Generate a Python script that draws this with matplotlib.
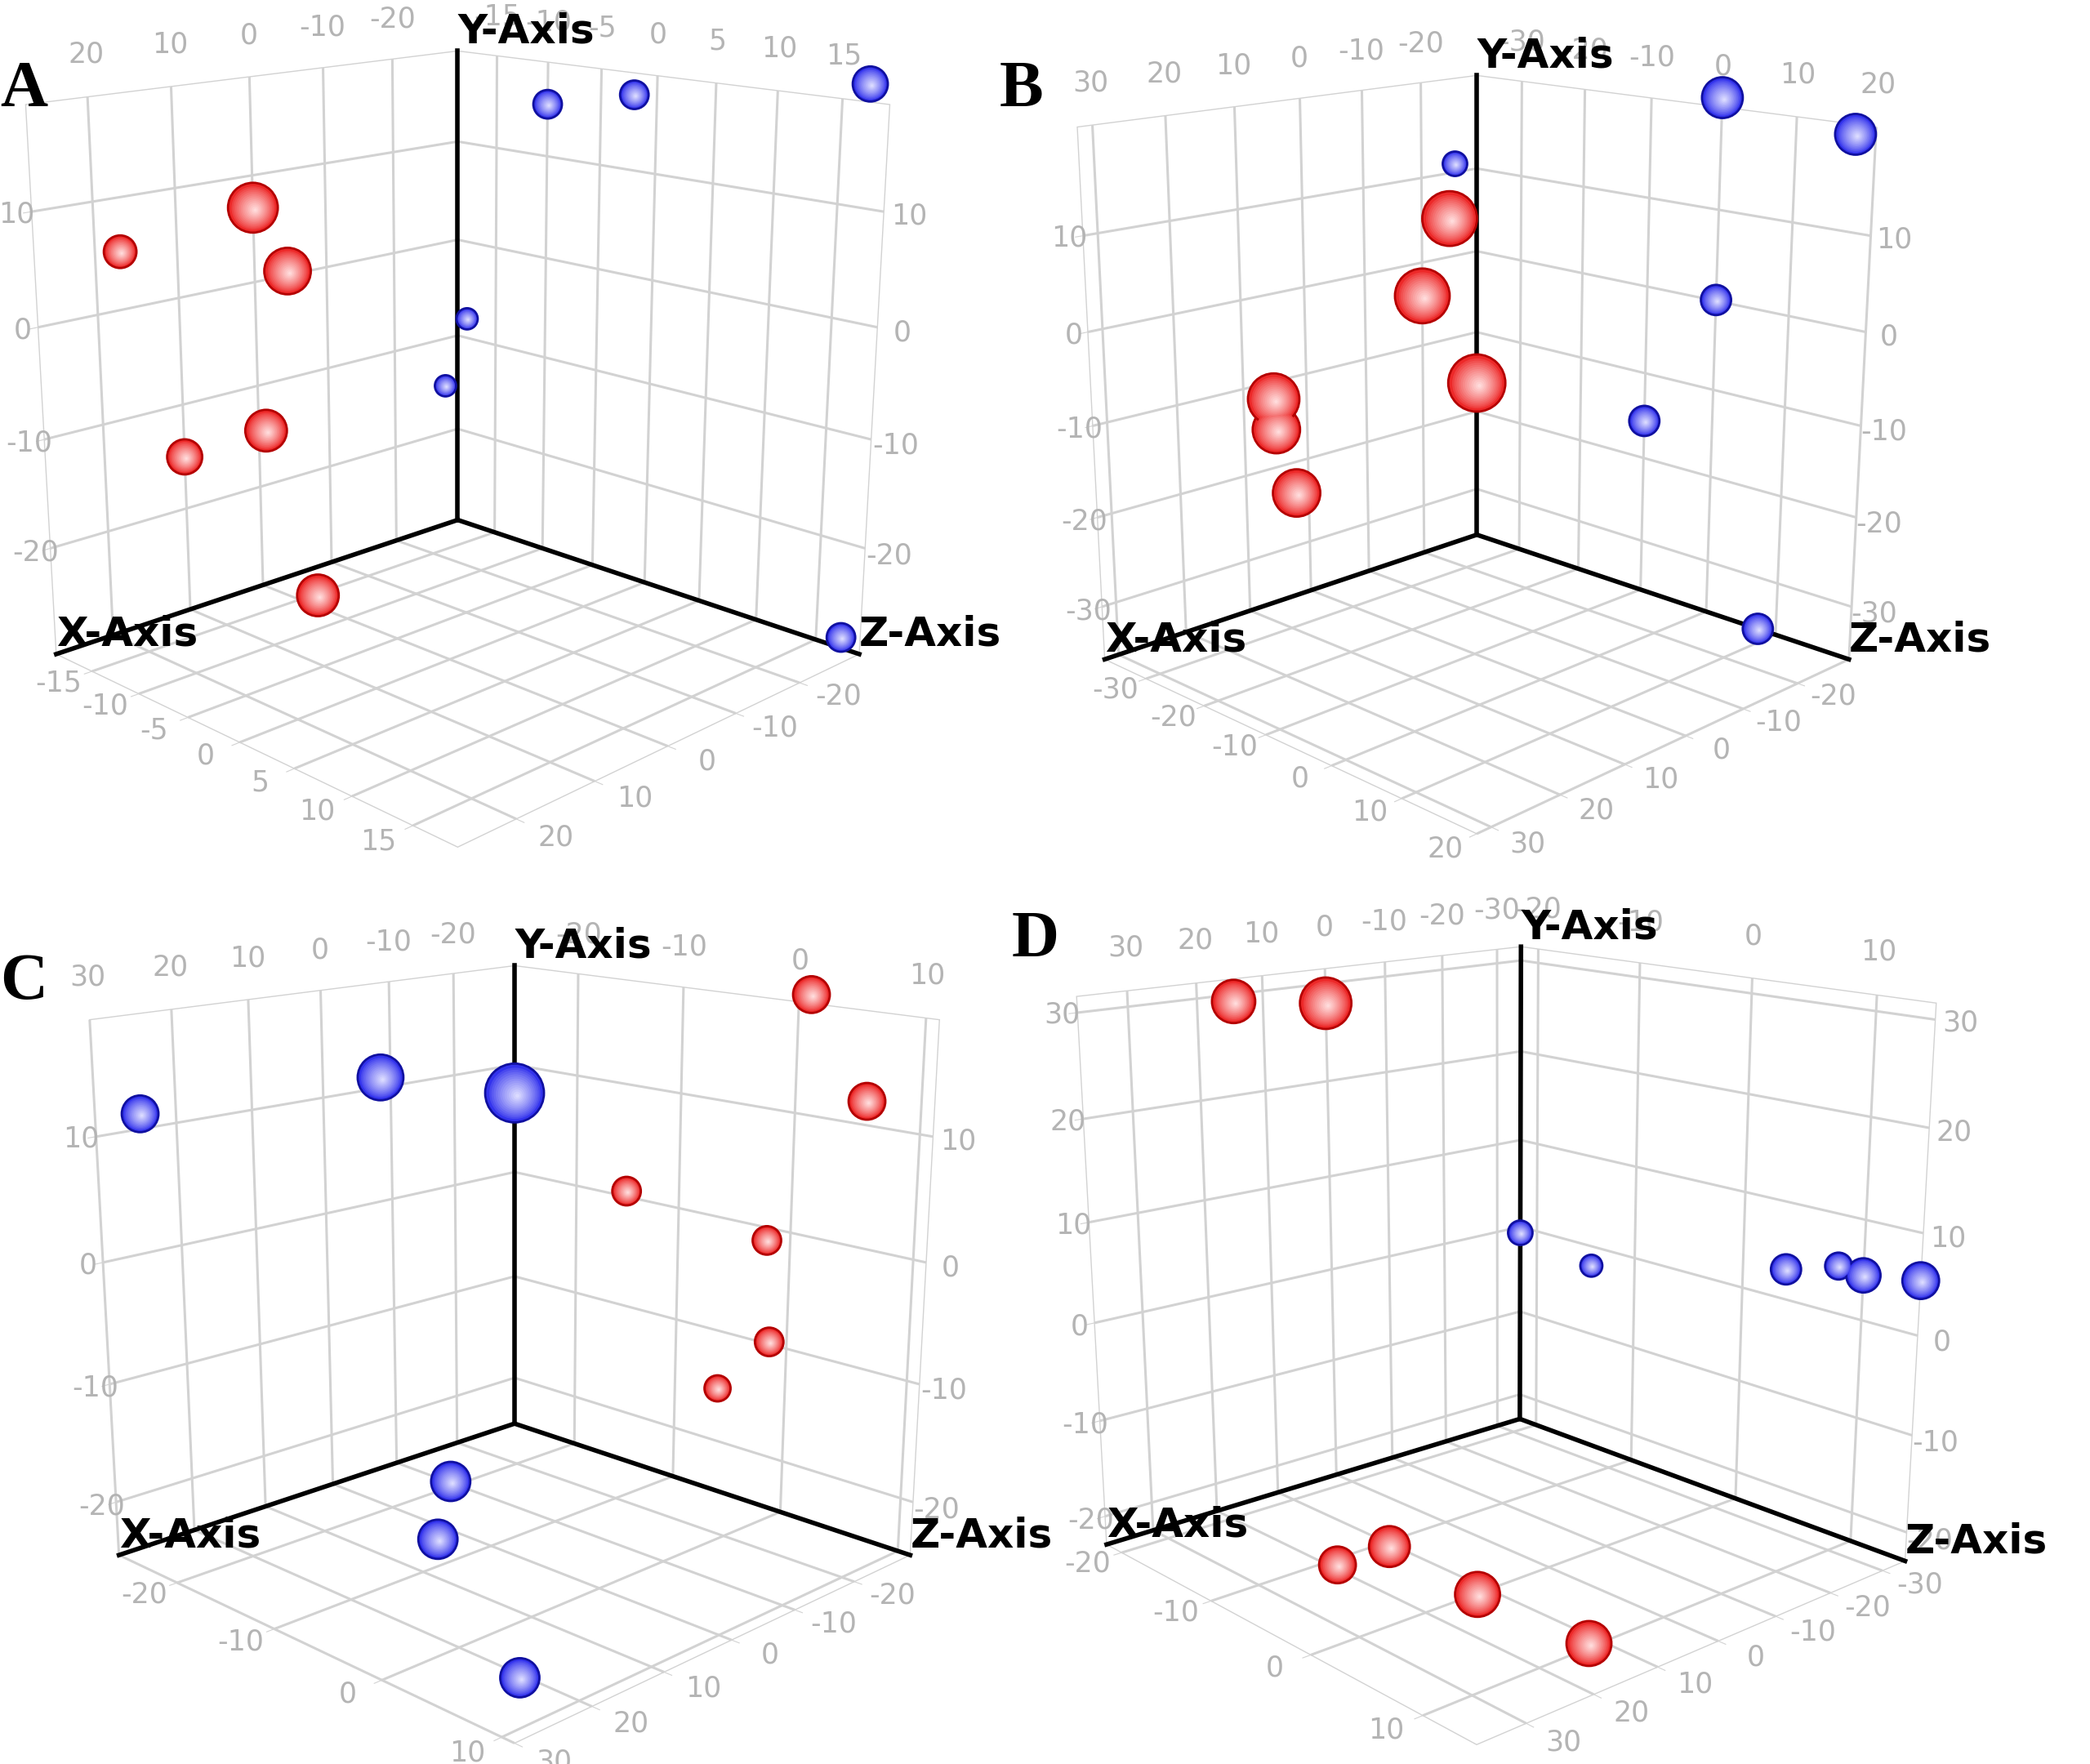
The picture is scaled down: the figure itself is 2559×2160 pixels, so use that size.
import numpy as np
import matplotlib.pyplot as plt
from matplotlib.path import Path

# x runs along the "X-Axis" line (lower left), y along the "Z-Axis" line
# (lower right), z is the vertical "Y-Axis". sizes are sphere diameters (px)

# panel A
a_lims = [(-30, 27), (-19, 18.5), (-30, 19)]
a_ticks = [[-20, -10, 0, 10, 20], [-15, -10, -5, 0, 5, 10, 15], [-20, -10, 0, 10]]
a_red_x = [0, 17, -4.5, -1, 10, -2.2]
a_red_y = [-19, -19, -19, -19, -19, -14.7]
a_red_z = [7, 5.2, 0.4, -14.6, -15, -30]
a_red_size = [61, 40, 57, 51, 43, 51]
a_blue_x = [-30, -30, -30, -30, -28, -30]
a_blue_y = [-10, -2, 17, -18, -19, 17]
a_blue_z = [15, 17, 20.5, -8, -15, -29]
a_blue_size = [35, 35, 43, 26, 26, 35]

# panel B
b_lims = [(-30, 32), (-37.5, 20), (-36, 21)]
b_ticks = [[-20, -10, 0, 10, 20, 30], [-30, -20, -10, 0, 10, 20], [-30, -20, -10, 0, 10]]
b_red_x = [-25, -20, -30, 5.3, 5, 2]
b_red_y = [-37.5, -37.5, -37.5, -37.5, -37.5, -37.5]
b_red_z = [4.6, -4, -16.4, -12, -15.6, -23.7]
b_red_size = [67, 67, 70, 63, 58, 58]
b_blue_x = [-26, -30, -30, -30, -30, -30]
b_blue_y = [-37.5, 0, 17.5, 0, -10, 7.5]
b_blue_z = [11, 22, 20, 0.1, -15.6, -36]
b_blue_size = [30, 50, 50, 37, 37, 37]

# panel C
c_lims = [(-30, 30), (-26.5, 11), (-24.6, 19)]
c_ticks = [[-20, -10, 0, 10, 20, 30], [-20, -10, 0, 10], [-20, -10, 0, 10]]
c_blue_x = [-30, -8.5, 24.5, -10.3, 2.8, 20.5]
c_blue_y = [-26.5, -26.5, -26.5, -20.8, -13.4, 5.5]
c_blue_z = [7.4, 10.9, 11.2, -24.6, -24.6, -24.6]
c_blue_size = [72, 56, 45, 48, 48, 48]
c_red_x = [-30, -30, -30, -30, -30, -30]
c_red_y = [1, 5.8, -15, -2, -1.5, -6]
c_red_z = [19.7, 11.9, 0.5, -1.1, -9.8, -15.2]
c_red_size = [45, 45, 35, 35, 35, 32]

# panel D
d_lims = [(-34.5, 37), (-21.8, 14.4), (-23, 31.5)]
d_ticks = [[-30, -20, -10, 0, 10, 20, 30], [-20, -10, 0, 10], [-20, -10, 0, 10, 20, 30]]
d_red_x = [14.5, 0, 19.1, 10.6, 12, 11.5]
d_red_y = [-21.8, -21.8, -9.2, -9.3, 0.1, 9.6]
d_red_z = [29.3, 28, -23, -23, -23, -23]
d_red_size = [53, 63, 45, 50, 55, 55]
d_blue_x = [-34.5, -34.5, -34.5, -34.5, -34.5, -34.5]
d_blue_y = [-21.8, -14.3, 3.7, 8, 10, 14.4]
d_blue_z = [-0.7, -2.2, 3.1, 4.8, 4.5, 5.4]
d_blue_size = [30, 27, 37, 33, 42, 45]

plt.rcParams['grid.color'] = '#d2d2d2'
plt.rcParams['grid.linewidth'] = 2.2

TICK_GREY = '#b4b4b4'


def ball(frac):
    # circle of radius frac, pushed a little to the lower right, inside a fixed frame
    c = Path.unit_circle()
    v = c.vertices * frac + np.array([0.1, -0.1]) * (1 - frac)
    v = np.vstack([v, [[1, 1], [-1, -1]]])
    codes = np.concatenate([c.codes, [Path.MOVETO, Path.MOVETO]])
    return Path(v, codes)


def spheres(ax, x, y, z, size, base, light, edge):
    s = (np.array(size) * 0.72) ** 2
    sc = ax.scatter(x, y, z, s=s, marker=ball(1.0), c=[base], edgecolors=edge,
                    linewidths=2, depthshade=False, zorder=10)
    sc.set_clip_on(False)
    n = 14
    for i in range(1, n):
        f = 1 - i / n
        t = (i / (n - 1)) ** 0.8
        col = tuple(np.array(base) * (1 - t) + np.array(light) * t)
        sc = ax.scatter(x, y, z, s=s, marker=ball(f * 0.94), c=[col], linewidths=0,
                        depthshade=False, zorder=10 + i)
        sc.set_clip_on(False)


def panel(rect, zoom, zasp, azim, letter, letter_pos, lims, ticks, groups):
    ax = fig.add_axes(rect, projection='3d')
    ax.computed_zorder = False
    ax.set_proj_type('persp', focal_length=0.45)
    ax.view_init(elev=16, azim=azim)
    (x0, x1), (y0, y1), (z0, z1) = lims
    ax.set_xlim(x0, x1, view_margin=0)
    ax.set_ylim(y0, y1, view_margin=0)
    ax.set_zlim(z0, z1, view_margin=0)
    ax.set_xticks(ticks[0])
    ax.set_yticks(ticks[1])
    ax.set_zticks(ticks[2])
    ax.set_xticklabels([])
    ax.set_yticklabels([])
    ax.set_zticklabels([])
    ax.tick_params(axis='both', color='#d2d2d2')
    for axis in (ax.xaxis, ax.yaxis, ax.zaxis):
        axis.set_pane_color((1, 1, 1, 1))
        axis.pane.set_edgecolor('#d2d2d2')
        axis.line.set_color((1, 1, 1, 0))
    ax.set_box_aspect((1, 1, zasp), zoom=zoom)
    ax.patch.set_alpha(0)

    dx, dy, dz = x1 - x0, y1 - y0, z1 - z0
    fs = 25
    # labels on top of the two walls
    for v in ticks[0]:
        ax.text(v, y0, z1 + 0.05 * dz, str(v), color=TICK_GREY, fontsize=fs,
                ha='center', va='bottom')
    for v in ticks[1]:
        ax.text(x0, v, z1 + 0.05 * dz, str(v), color=TICK_GREY, fontsize=fs,
                ha='center', va='bottom')
    # labels on the outer wall edges
    for v in ticks[2]:
        ax.text(x1 + 0.03 * dx, y0, v, str(v), color=TICK_GREY, fontsize=fs,
                ha='center', va='center')
        ax.text(x0, y1 + 0.05 * dy, v, str(v), color=TICK_GREY, fontsize=fs,
                ha='center', va='center')
    # labels on the floor front edges
    for v in ticks[1]:
        ax.text(x1 + 0.07 * dx, v, z0, str(v), color=TICK_GREY, fontsize=fs,
                ha='center', va='center', rotation=20)
    for v in ticks[0]:
        ax.text(v, y1 + 0.08 * dy, z0, str(v), color=TICK_GREY, fontsize=fs,
                ha='center', va='center', rotation=-20)

    # the three black axes from the back corner
    ax.plot([x0, x1], [y0, y0], [z0, z0], color='black', lw=4, zorder=5)
    ax.plot([x0, x0], [y0, y1], [z0, z0], color='black', lw=4, zorder=5)
    ax.plot([x0, x0], [y0, y0], [z0, z1], color='black', lw=4, zorder=5)
    ax.text(x1, y0, z0, 'X-Axis', fontsize=36, fontweight='bold',
            ha='left', va='bottom', zorder=6)
    ax.text(x0, y1, z0, 'Z-Axis', fontsize=36, fontweight='bold',
            ha='left', va='bottom', zorder=6)
    ax.text(x0, y0, z1, 'Y-Axis', fontsize=36, fontweight='bold',
            ha='left', va='bottom', zorder=6)

    for g in groups:
        spheres(ax, *g)

    fig.text(letter_pos[0], letter_pos[1], letter, fontsize=58, fontweight='bold',
             family='Liberation Serif', ha='left', va='center')
    return ax


RED = ((0.93, 0.16, 0.16), (1.0, 0.86, 0.86), '#b40000')
BLUE = ((0.20, 0.20, 0.93), (0.86, 0.86, 1.0), '#1010a0')

fig = plt.figure(figsize=(25.59, 21.6), dpi=100)

panel([0.2133 - 0.245, 0.5225, 0.49, 0.5], 1.111, 0.97, 45, 'A', (0.0, 0.949),
      a_lims, a_ticks,
      [(a_red_x, a_red_y, a_red_z, a_red_size, *RED),
       (a_blue_x, a_blue_y, a_blue_z, a_blue_size, *BLUE)])
panel([0.7009 - 0.245, 0.515, 0.49, 0.5], 1.044, 1.015, 45, 'B', (0.478, 0.949),
      b_lims, b_ticks,
      [(b_red_x, b_red_y, b_red_z, b_red_size, *RED),
       (b_blue_x, b_blue_y, b_blue_z, b_blue_size, *BLUE)])
panel([0.2405 - 0.245, 0.008, 0.49, 0.5], 1.09, 0.96, 45, 'C', (0.0, 0.443),
      c_lims, c_ticks,
      [(c_blue_x, c_blue_y, c_blue_z, c_blue_size, *BLUE),
       (c_red_x, c_red_y, c_red_z, c_red_size, *RED)])
panel([0.713 - 0.245, 0.014, 0.49, 0.5], 1.11, 0.98, 48, 'D', (0.484, 0.467),
      d_lims, d_ticks,
      [(d_red_x, d_red_y, d_red_z, d_red_size, *RED),
       (d_blue_x, d_blue_y, d_blue_z, d_blue_size, *BLUE)])

plt.savefig('out.png', dpi=100)
